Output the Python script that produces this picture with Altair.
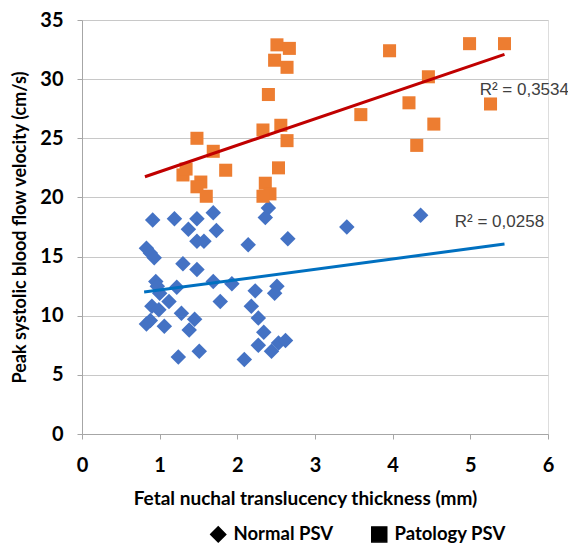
import altair as alt
import pandas as pd

normal_x = [0.91,1.19,1.48,1.69,1.37,1.73,1.48,1.57,2.14,2.65,0.83,0.88,0.93,1.30,1.48,0.95,0.97,1.00,1.22,1.69,1.93,1.12,0.90,0.99,1.28,1.78,2.23,2.51,2.48,2.18,2.27,2.34,0.83,0.88,1.06,1.45,1.38,2.27,2.44,2.53,2.62,1.24,1.51,2.09,2.40,2.36,3.41,4.36]
normal_y = [18.1,18.2,18.2,18.7,17.3,17.2,16.3,16.3,16.0,16.5,15.7,15.3,14.9,14.4,13.9,12.9,12.5,11.9,12.4,12.9,12.7,11.2,10.8,10.5,10.2,11.2,12.1,12.5,11.9,10.8,9.8,8.6,9.3,9.6,9.1,9.7,8.8,7.5,7.0,7.7,7.9,6.5,7.0,6.3,19.1,18.3,17.5,18.5]

patology_x = [1.30,1.34,1.53,1.48,1.60,1.85,2.53,2.36,2.42,2.33,1.69,2.51,2.67,2.48,2.64,2.40,1.48,2.33,2.56,2.64,3.96,4.99,5.44,4.46,4.21,5.26,3.59,4.53,4.31]
patology_y = [21.9,22.4,21.3,20.9,20.1,22.3,22.5,21.2,20.3,20.1,23.9,32.9,32.6,31.6,31.0,28.7,25.0,25.7,26.1,24.8,32.4,33.0,33.0,30.2,28.0,27.9,27.0,26.2,24.4]

trend_patology_x = [0.81, 5.44]
trend_patology_y = [21.75, 32.1]
trend_normal_x = [0.80, 5.44]
trend_normal_y = [12.0, 16.06]

series_names = ["Normal PSV", "Patology PSV"]
r2_labels = ["R\u00b2 = 0,0258", "R\u00b2 = 0,3534"]
r2_x = [4.80, 5.12]
r2_y = [17.95, 29.1]

normal_df = pd.DataFrame({"x": normal_x, "y": normal_y, "series": series_names[0]})
patology_df = pd.DataFrame({"x": patology_x, "y": patology_y, "series": series_names[1]})
trend = pd.DataFrame({
    "x": trend_normal_x + trend_patology_x,
    "y": trend_normal_y + trend_patology_y,
    "series": [series_names[0]] * 2 + [series_names[1]] * 2,
})
labels = pd.DataFrame({"x": r2_x, "y": r2_y, "text": r2_labels})

FONT = "Lato"
xs = alt.Scale(domain=[0, 6], nice=False)
ys = alt.Scale(domain=[0, 35], nice=False)

xax = alt.Axis(values=[0,1,2,3,4,5,6], format="d", labelFlush=False, grid=False, domainColor="#a6a6a6",
               tickColor="#a6a6a6", tickSize=5, labelFont=FONT, labelFontWeight="bold", labelFontSize=20,
               labelColor="#000000", labelPadding=16, title="Fetal nuchal translucency thickness (mm)",
               titleFont=FONT, titleFontWeight="bold", titleFontSize=19, titleColor="#000000", titlePadding=14,
               titleX=223, titleAlign="center")
yax = alt.Axis(values=[0,5,10,15,20,25,30,35], format="d", labelFlush=False, grid=True, gridColor="#c8c8c8",
               domainColor="#a6a6a6", tickColor="#a6a6a6", tickSize=5, labelFont=FONT, labelFontWeight="bold",
               labelFontSize=20, labelColor="#000000", labelPadding=14,
               title="Peak systolic blood flow velocity (cm/s)", titleFont=FONT, titleFontWeight="bold",
               titleFontSize=18, titleColor="#000000", titlePadding=10)

color_enc = alt.Color("series:N", scale=alt.Scale(domain=series_names, range=["#4472C4", "#ED7D31"]), legend=None)
shape_enc = alt.Shape("series:N", scale=alt.Scale(domain=series_names, range=["diamond", "square"]),
                      legend=alt.Legend(orient="none", legendX=127, legendY=505, direction="horizontal",
                                        title=None, labelFont=FONT, labelFontWeight="bold", labelFontSize=18.5,
                                        labelColor="#000000", symbolFillColor="#000000",
                                        symbolStrokeColor="#000000", symbolSize=225, columnPadding=34,
                                        labelOffset=6))

normal_pts = alt.Chart(normal_df).mark_point(filled=True, opacity=1, size=240).encode(
    x=alt.X("x:Q", scale=xs, axis=xax),
    y=alt.Y("y:Q", scale=ys, axis=yax),
    color=color_enc, shape=shape_enc,
)
patology_pts = alt.Chart(patology_df).mark_point(filled=True, opacity=1, size=170).encode(
    x=alt.X("x:Q", scale=xs), y=alt.Y("y:Q", scale=ys),
    color=color_enc, shape=shape_enc,
)

lines = alt.Chart(trend).mark_line(strokeWidth=3).encode(
    x="x:Q", y="y:Q",
    color=alt.Color("series:N", scale=alt.Scale(domain=series_names, range=["#0070C0", "#C00000"]), legend=None),
    detail="series:N",
)

txt = alt.Chart(labels).mark_text(align="left", baseline="middle", font="Liberation Sans", fontSize=17,
                                  color="#404040").encode(x="x:Q", y="y:Q", text="text:N")

chart = alt.layer(normal_pts, patology_pts, lines, txt).resolve_scale(color="independent").properties(
    width=466, height=414,
    autosize=alt.AutoSizeParams(type="none"),
    padding={"left": 74, "top": 12, "right": 20, "bottom": 110},
).configure_view(stroke=None).configure(background="#ffffff")

chart.save("out.html", embed_options={"renderer": "svg", "actions": False})
